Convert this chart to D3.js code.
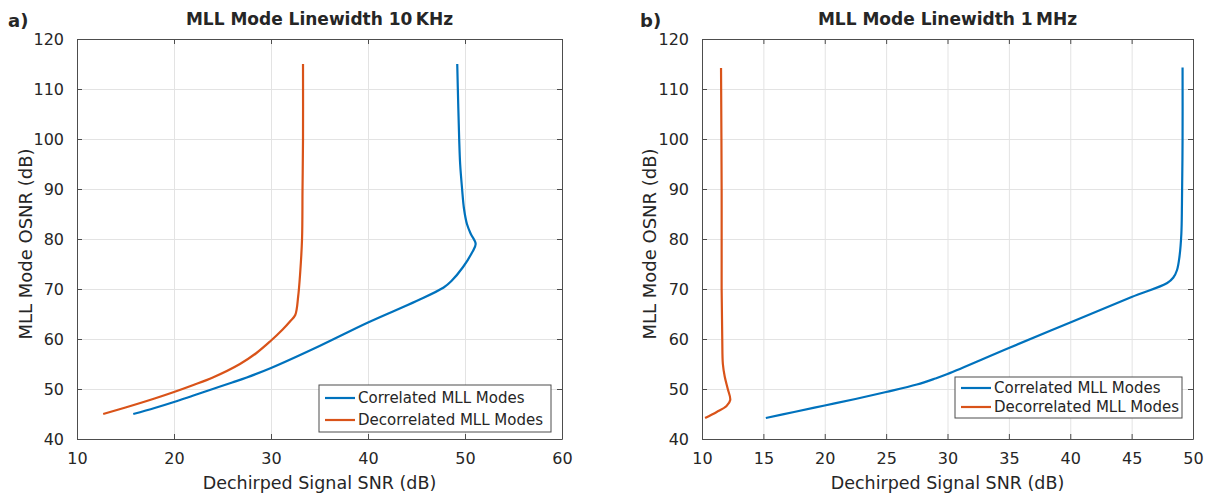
<!DOCTYPE html>
<html>
<head>
<meta charset="utf-8">
<script src="https://cdn.jsdelivr.net/npm/d3@7"></script>
<style>
  body { margin: 0; background: #fff; }
  svg text { font-family: "DejaVu Sans", sans-serif; fill: #262626; }
</style>
</head>
<body>
<div id="chart"></div>
<script>
// Datos
const A_CORR_X = [15.8, 18, 20, 22, 24, 26, 27.5, 30, 35, 40, 45, 47.8, 48.6, 49.8, 50.7, 51.1, 50.6, 50.2, 49.9, 49.7, 49.5, 49.4, 49.3, 49.2];
const A_CORR_Y = [45, 46.2, 47.4, 48.7, 50.0, 51.3, 52.3, 54.2, 58.6, 63.3, 67.6, 70.3, 71.6, 74.4, 77.2, 79, 81, 83, 86, 90, 95, 100, 107, 115];
const A_DECO_X = [12.7, 15, 18, 20, 22, 24, 26.8, 28.5, 29.9, 31.2, 32, 32.5, 32.8, 33, 33.2, 33.25, 33.3, 33.3];
const A_DECO_Y = [45, 46.3, 48.1, 49.4, 50.8, 52.3, 55, 57.2, 59.5, 61.9, 63.6, 64.8, 68.5, 73, 80, 90, 100, 115];

const B_CORR_X = [15.2, 17.5, 20, 22.5, 25, 27.5, 29, 30, 35, 40, 45, 47.9, 48.4, 48.7, 48.9, 49.05, 49.1, 49.15, 49.15];
const B_CORR_Y = [44.2, 45.4, 46.7, 48.0, 49.4, 50.9, 52.1, 53.0, 58.2, 63.3, 68.4, 71.2, 72.3, 73.8, 76.5, 81, 87, 100, 114.3];
const B_DECO_X = [10.25, 11.2, 12.0, 12.3, 12.1, 11.85, 11.7, 11.65, 11.6, 11.6, 11.55];
const B_DECO_Y = [44.2, 45.4, 46.6, 47.8, 50, 52.5, 55, 60, 70, 90, 114.2];

const Y_TICKS = [40, 50, 60, 70, 80, 90, 100, 110, 120];
const A_X_TICKS = [10, 20, 30, 40, 50, 60];
const B_X_TICKS = [10, 15, 20, 25, 30, 35, 40, 45, 50];
const SERIES_NAMES = ['Correlated MLL Modes', 'Decorrelated MLL Modes'];

const COLOR_BLUE = '#0072BD', COLOR_ORANGE = '#D95319';

const svg = d3.select('#chart').append('svg')
    .attr('width', 1211).attr('height', 494);

function zip(xs, ys) { return xs.map(function(v, i) { return [v, ys[i]]; }); }

function drawPanel(cfg) {
    let g = svg.append('g');
    let x = d3.scaleLinear().domain(cfg.xDomain).range([cfg.left, cfg.right]);
    let y = d3.scaleLinear().domain([40, 120]).range([439, 39]);
    let height = 400, width = cfg.right - cfg.left;

    // grid
    g.append('g').attr('transform', 'translate(0,439)')
        .call(d3.axisBottom(x).tickValues(cfg.xTicks).tickSize(-height).tickFormat(''))
        .call(function(s){ s.select('.domain').remove(); s.selectAll('line').attr('stroke', '#e3e3e3'); });
    g.append('g').attr('transform', 'translate(' + cfg.left + ',0)')
        .call(d3.axisLeft(y).tickValues(Y_TICKS).tickSize(-width).tickFormat(''))
        .call(function(s){ s.select('.domain').remove(); s.selectAll('line').attr('stroke', '#e3e3e3'); });

    // lines
    let line = d3.line().x(function(d){ return x(d[0]); }).y(function(d){ return y(d[1]); })
        .curve(d3.curveCatmullRom.alpha(0.5));
    g.append('path').datum(zip(cfg.corrX, cfg.corrY)).attr('d', line)
        .attr('fill', 'none').attr('stroke', COLOR_BLUE).attr('stroke-width', 2.2);
    g.append('path').datum(zip(cfg.decoX, cfg.decoY)).attr('d', line)
        .attr('fill', 'none').attr('stroke', COLOR_ORANGE).attr('stroke-width', 2.2);

    // axes (box, ticks inward)
    let styleAxis = function(s) {
        s.select('.domain').attr('stroke', '#4d4d4d');
        s.selectAll('.tick line').attr('stroke', '#4d4d4d');
        s.selectAll('text').style('font-size', '16px').attr('fill', '#262626');
    };
    g.append('g').attr('transform', 'translate(0,439)')
        .call(d3.axisBottom(x).tickValues(cfg.xTicks).tickSize(-5).tickSizeOuter(0).tickPadding(14))
        .call(styleAxis);
    g.append('g').attr('transform', 'translate(0,39)')
        .call(d3.axisTop(x).tickValues(cfg.xTicks).tickSize(-5).tickSizeOuter(0).tickFormat(''))
        .call(styleAxis);
    g.append('g').attr('transform', 'translate(' + cfg.left + ',0)')
        .call(d3.axisLeft(y).tickValues(Y_TICKS).tickSize(-5).tickSizeOuter(0).tickPadding(13))
        .call(styleAxis);
    g.append('g').attr('transform', 'translate(' + cfg.right + ',0)')
        .call(d3.axisRight(y).tickValues(Y_TICKS).tickSize(-5).tickSizeOuter(0).tickFormat(''))
        .call(styleAxis);

    // textos
    g.append('text').attr('x', (cfg.left + cfg.right) / 2).attr('y', 25)
        .attr('text-anchor', 'middle').style('font-size', '17px').style('font-weight', 'bold')
        .attr('fill', '#000').text(cfg.title);
    g.append('text').attr('x', cfg.tagX).attr('y', 27)
        .style('font-size', '18px').style('font-weight', 'bold').attr('fill', '#000').text(cfg.tag);
    g.append('text').attr('x', (cfg.left + cfg.right) / 2).attr('y', 489)
        .attr('text-anchor', 'middle').style('font-size', '17.5px').text('Dechirped Signal SNR (dB)');
    g.append('text').attr('transform', 'translate(' + cfg.yLabelX + ',244)rotate(-90)')
        .attr('text-anchor', 'middle').style('font-size', '18px').text('MLL Mode OSNR (dB)');

    // leyenda
    let lg = cfg.legend;
    g.append('rect').attr('x', lg.x).attr('y', lg.y).attr('width', lg.w).attr('height', lg.h)
        .attr('fill', '#fff').attr('stroke', '#4d4d4d').attr('stroke-width', 1);
    [COLOR_BLUE, COLOR_ORANGE].forEach(function(c, i) {
        let cy = lg.y + lg.row0 + i * lg.rowH;
        g.append('line').attr('x1', lg.x + 6).attr('x2', lg.x + 36).attr('y1', cy).attr('y2', cy)
            .attr('stroke', c).attr('stroke-width', 2.2);
        g.append('text').attr('x', lg.x + 39).attr('y', cy).attr('dy', '0.35em')
            .style('font-size', '15px').text(SERIES_NAMES[i]);
    });
}

drawPanel({
    left: 77, right: 562, xDomain: [10, 60], xTicks: A_X_TICKS,
    corrX: A_CORR_X, corrY: A_CORR_Y, decoX: A_DECO_X, decoY: A_DECO_Y,
    title: 'MLL Mode Linewidth 10\u2009KHz', tag: 'a)', tagX: 8, yLabelX: 32,
    legend: { x: 319, y: 385, w: 232, h: 47, row0: 13, rowH: 22 }
});

drawPanel({
    left: 702, right: 1193, xDomain: [10, 50], xTicks: B_X_TICKS,
    corrX: B_CORR_X, corrY: B_CORR_Y, decoX: B_DECO_X, decoY: B_DECO_Y,
    title: 'MLL Mode Linewidth 1\u2009MHz', tag: 'b)', tagX: 640, yLabelX: 656,
    legend: { x: 955, y: 377, w: 227, h: 41, row0: 11, rowH: 19 }
});
</script>
</body>
</html>
